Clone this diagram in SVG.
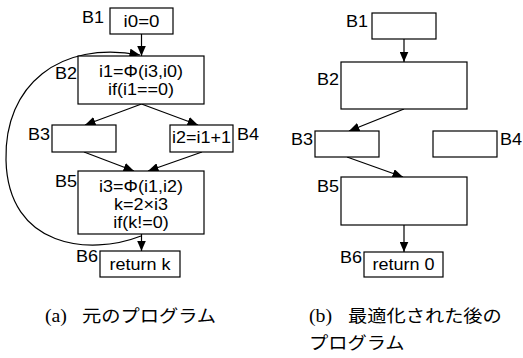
<svg xmlns="http://www.w3.org/2000/svg" width="523" height="358" viewBox="0 0 523 358">
  <style>
    .box { fill: #ffffff; stroke: #000000; stroke-width: 1.2; }
    .edge { fill: none; stroke: #000000; stroke-width: 1.2; marker-end: url(#arrow); }
    .t { font-family: "Liberation Sans", Arial, sans-serif; font-size: 17px; fill: #000000; }
    .c { text-anchor: middle; }
    .e { text-anchor: end; }
    .cap { font-size: 17.5px; fill: #000000; }
    .serif { font-family: "Liberation Serif", "Times New Roman", serif; font-size: 18px; }
    .jp { font-family: "Noto Sans CJK JP", "Noto Sans", sans-serif; }
  </style>
  <defs>
    <marker id="arrow" markerUnits="userSpaceOnUse" markerWidth="11" markerHeight="9" refX="10.5" refY="4.5" orient="auto">
      <path d="M0,0 L10.5,4.5 L0,9 z" fill="#000000"/>
    </marker>
  </defs>
  <rect width="523" height="358" fill="#ffffff"/>

  <!-- (a) original program -->
  <g id="connectors-a">
    <line class="edge" x1="141.5" y1="34" x2="141.5" y2="56"/>
    <line class="edge" x1="141.5" y1="104" x2="85" y2="125"/>
    <line class="edge" x1="141.5" y1="104" x2="198" y2="125"/>
    <line class="edge" x1="84" y1="152" x2="134" y2="171"/>
    <line class="edge" x1="202" y1="152" x2="148" y2="171"/>
    <line class="edge" x1="141.5" y1="234" x2="141.5" y2="251"/>
    <!-- loop back-edge from B5 to B2 -->
    <path class="edge" d="M141,236 C90,256 8,248 6,160 C4,85 60,40 140,55"/>
  </g>

  <g id="a-B1">
    <rect class="box" x="110" y="8" width="63" height="26"/>
    <text class="t e" transform="translate(104,23) scale(1.06,1)">B1</text>
    <text class="t c" transform="translate(141.5,27) scale(1.1,1)">i0=0</text>
  </g>
  <g id="a-B2">
    <rect class="box" x="78" y="56" width="126" height="48"/>
    <text class="t e" transform="translate(77,79) scale(1.06,1)">B2</text>
    <text class="t c" transform="translate(141,77) scale(1.06,1)">i1=Φ(i3,i0)</text>
    <text class="t c" transform="translate(141,95) scale(1.06,1)">if(i1==0)</text>
  </g>
  <g id="a-B3">
    <rect class="box" x="52" y="125" width="64" height="27"/>
    <text class="t e" transform="translate(50,140) scale(1.06,1)">B3</text>
  </g>
  <g id="a-B4">
    <rect class="box" x="170" y="125" width="63" height="27"/>
    <text class="t c" transform="translate(201.5,143) scale(1.06,1)">i2=i1+1</text>
    <text class="t" transform="translate(237,140) scale(1.06,1)">B4</text>
  </g>
  <g id="a-B5">
    <rect class="box" x="78" y="171" width="126" height="63"/>
    <text class="t e" transform="translate(77,187) scale(1.06,1)">B5</text>
    <text class="t c" transform="translate(141,192) scale(1.06,1)">i3=Φ(i1,i2)</text>
    <text class="t c" transform="translate(141,210) scale(1.06,1)">k=2×i3</text>
    <text class="t c" transform="translate(141,228) scale(1.06,1)">if(k!=0)</text>
  </g>
  <g id="a-B6">
    <rect class="box" x="100" y="251" width="80" height="26"/>
    <text class="t e" transform="translate(98,262) scale(1.06,1)">B6</text>
    <text class="t c" transform="translate(140,270) scale(1.06,1)">return k</text>
  </g>

  <!-- (b) optimized program -->
  <g id="connectors-b">
    <line class="edge" x1="404" y1="39" x2="404" y2="62"/>
    <line class="edge" x1="404" y1="109" x2="349" y2="131"/>
    <line class="edge" x1="347" y1="157" x2="403" y2="177"/>
    <line class="edge" x1="404" y1="225" x2="404" y2="252"/>
  </g>

  <g id="b-B1">
    <rect class="box" x="372" y="13" width="64" height="26"/>
    <text class="t e" transform="translate(368,27) scale(1.06,1)">B1</text>
  </g>
  <g id="b-B2">
    <rect class="box" x="341" y="62" width="126" height="47"/>
    <text class="t e" transform="translate(339,85) scale(1.06,1)">B2</text>
  </g>
  <g id="b-B3">
    <rect class="box" x="315" y="131" width="64" height="26"/>
    <text class="t e" transform="translate(313,145) scale(1.06,1)">B3</text>
  </g>
  <g id="b-B4">
    <rect class="box" x="433" y="131" width="64" height="26"/>
    <text class="t" transform="translate(500,145) scale(1.06,1)">B4</text>
  </g>
  <g id="b-B5">
    <rect class="box" x="341" y="177" width="126" height="48"/>
    <text class="t e" transform="translate(339,192) scale(1.06,1)">B5</text>
  </g>
  <g id="b-B6">
    <rect class="box" x="364" y="252" width="79" height="25"/>
    <text class="t e" transform="translate(362,263) scale(1.06,1)">B6</text>
    <text class="t c" transform="translate(403.5,270) scale(1.06,1)">return 0</text>
  </g>

  <!-- captions -->
  <g id="captions">
    <text class="cap serif" transform="translate(45,322) scale(1.1,1)">(a)</text>
    <text class="cap jp" transform="translate(82,322) scale(1.1,1)">元のプログラム</text>
    <text class="cap serif" transform="translate(309,322) scale(1.1,1)">(b)</text>
    <text class="cap jp" transform="translate(348,322) scale(1.1,1)">最適化された後の</text>
    <text class="cap jp" transform="translate(309,349) scale(1.1,1)">プログラム</text>
  </g>
</svg>
